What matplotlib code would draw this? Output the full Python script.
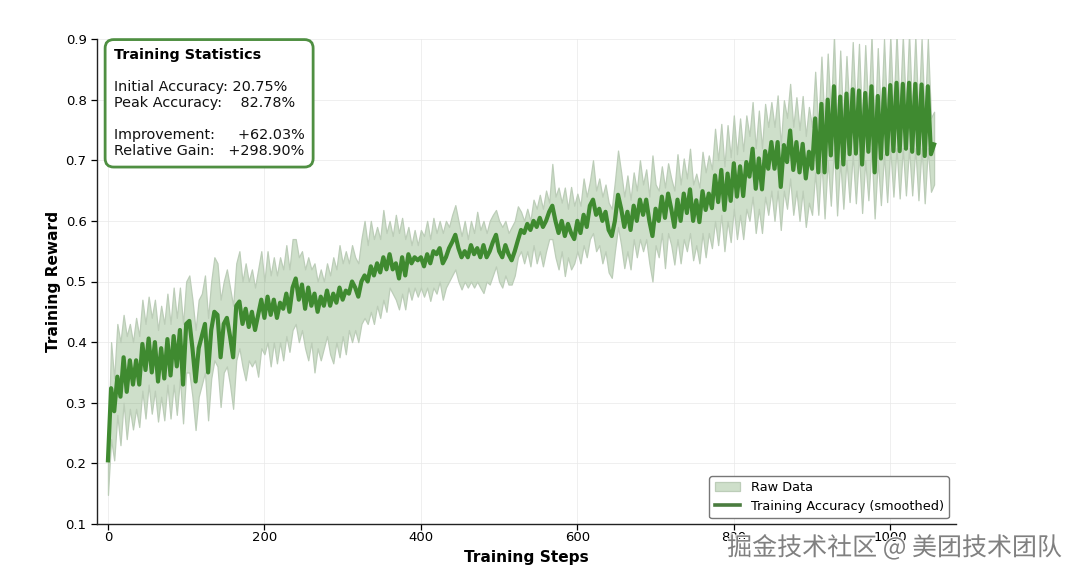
import numpy as np
import matplotlib
matplotlib.use("Agg")
import matplotlib.pyplot as plt
import matplotlib.patheffects as pe

# one sample every 4 training steps
steps = list(range(0, 1060, 4))

smoothed = [
    .205, .324, .286, .343, .31, .375, .318, .37, .33, .37,
    .33, .397, .354, .406, .35, .40, .335, .39, .34, .405,
    .345, .41, .36, .42, .33, .43, .435, .39, .335, .39,
    .41, .43, .35, .42, .45, .445, .375, .43, .44, .41,
    .375, .46, .467, .43, .455, .425, .45, .42, .445, .47,
    .44, .475, .445, .47, .44, .465, .455, .48, .45, .49,
    .505, .47, .495, .455, .49, .46, .48, .45, .475, .46,
    .485, .46, .48, .465, .49, .47, .485, .48, .50, .49,
    .475, .50, .51, .50, .525, .51, .53, .515, .54, .52,
    .545, .52, .53, .505, .54, .51, .545, .53, .54, .535,
    .54, .525, .545, .53, .55, .545, .555, .53, .54, .555,
    .565, .577, .555, .54, .55, .54, .56, .545, .555, .54,
    .56, .54, .55, .565, .577, .55, .54, .56, .545, .535,
    .55, .568, .585, .58, .595, .585, .60, .59, .605, .59,
    .60, .615, .625, .60, .58, .60, .575, .595, .58, .57,
    .60, .58, .61, .59, .625, .635, .61, .62, .60, .615,
    .585, .575, .60, .643, .62, .59, .615, .585, .625, .60,
    .635, .61, .635, .60, .575, .62, .60, .64, .605, .645,
    .62, .59, .635, .60, .645, .613, .652, .60, .634, .598,
    .649, .618, .645, .621, .675, .631, .684, .618, .678, .633,
    .695, .64, .69, .641, .697, .673, .719, .653, .703, .652,
    .715, .686, .73, .686, .73, .656, .725, .697, .749, .684,
    .73, .68, .727, .67, .714, .686, .769, .68, .793, .68,
    .80, .708, .822, .688, .805, .693, .81, .71, .817, .711,
    .815, .693, .811, .714, .822, .68, .806, .703, .818, .71,
    .824, .715, .8278, .715, .826, .719, .8278, .714, .826, .711,
    .825, .707, .822, .71, .726,
]

raw_upper = [
    .21, .40, .34, .43, .40, .445, .41, .43, .40, .44,
    .41, .47, .43, .475, .44, .47, .42, .46, .43, .48,
    .43, .49, .44, .49, .43, .50, .51, .47, .42, .47,
    .48, .51, .44, .50, .54, .53, .47, .50, .52, .49,
    .46, .53, .55, .50, .53, .50, .52, .49, .52, .55,
    .50, .55, .51, .54, .51, .54, .52, .56, .52, .57,
    .57, .54, .55, .52, .54, .52, .53, .50, .52, .50,
    .53, .51, .54, .52, .56, .53, .55, .53, .56, .54,
    .53, .57, .60, .56, .60, .57, .59, .57, .618, .58,
    .60, .575, .61, .58, .605, .57, .59, .56, .585, .56,
    .585, .575, .60, .57, .605, .58, .60, .58, .60, .59,
    .61, .626, .60, .575, .60, .57, .60, .58, .615, .585,
    .60, .58, .60, .61, .618, .60, .59, .60, .58, .59,
    .60, .624, .615, .60, .62, .60, .635, .62, .643, .62,
    .65, .63, .694, .64, .655, .63, .655, .62, .656, .625,
    .645, .625, .67, .64, .665, .70, .65, .67, .64, .66,
    .63, .62, .665, .716, .68, .64, .675, .635, .68, .65,
    .70, .66, .685, .64, .708, .66, .65, .69, .655, .695,
    .67, .65, .71, .66, .703, .67, .719, .66, .678, .655,
    .714, .68, .708, .685, .752, .70, .76, .69, .758, .705,
    .774, .71, .769, .715, .774, .74, .796, .72, .782, .72,
    .793, .755, .796, .755, .807, .725, .799, .77, .826, .755,
    .804, .75, .806, .74, .788, .755, .846, .755, .871, .755,
    .876, .775, .905, .755, .881, .76, .872, .775, .895, .78,
    .892, .76, .89, .78, .905, .75, .885, .77, .90, .775,
    .905, .78, .91, .78, .905, .785, .91, .78, .905, .775,
    .90, .77, .90, .77, .78,
]

raw_lower = [
    .148, .24, .205, .28, .23, .30, .24, .29, .256, .29,
    .26, .32, .274, .33, .282, .32, .269, .31, .271, .33,
    .274, .33, .28, .34, .266, .35, .35, .31, .255, .31,
    .33, .35, .271, .34, .37, .36, .293, .35, .36, .33,
    .29, .37, .39, .36, .337, .37, .36, .37, .343, .39,
    .38, .40, .36, .40, .365, .40, .37, .41, .384, .42,
    .43, .40, .42, .39, .37, .40, .35, .39, .37, .39,
    .41, .38, .365, .40, .375, .41, .38, .42, .40, .42,
    .40, .43, .44, .43, .45, .43, .46, .44, .47, .45,
    .49, .48, .47, .454, .48, .454, .49, .47, .49, .475,
    .49, .475, .49, .468, .49, .48, .50, .47, .49, .50,
    .51, .52, .50, .487, .50, .49, .50, .49, .50, .49,
    .481, .50, .495, .51, .525, .50, .49, .51, .495, .495,
    .51, .54, .55, .53, .55, .525, .56, .53, .55, .525,
    .55, .57, .57, .54, .52, .55, .509, .54, .52, .53,
    .55, .53, .56, .54, .57, .58, .55, .56, .53, .55,
    .515, .506, .55, .59, .56, .522, .55, .52, .57, .54,
    .57, .55, .57, .53, .50, .56, .54, .58, .522, .58,
    .56, .528, .57, .53, .57, .55, .58, .535, .56, .53,
    .58, .54, .58, .555, .60, .56, .61, .55, .60, .565,
    .62, .57, .61, .57, .62, .60, .64, .58, .62, .58,
    .64, .61, .65, .60, .65, .585, .65, .62, .67, .61,
    .65, .60, .65, .59, .63, .61, .68, .61, .70, .604,
    .70, .625, .72, .609, .70, .62, .70, .631, .71, .629,
    .71, .613, .70, .634, .72, .604, .70, .626, .71, .631,
    .72, .64, .72, .637, .72, .642, .72, .642, .72, .634,
    .72, .629, .72, .648, .66,
]

x_ticks = [0, 200, 400, 600, 800, 1000]
y_ticks = [.1, .2, .3, .4, .5, .6, .7, .8, .9]

stats_lines = [
    "Initial Accuracy: 20.75%",
    "Peak Accuracy:    82.78%",
    "",
    "Improvement:     +62.03%",
    "Relative Gain:   +298.90%",
]

W, H = 1080, 580
fig = plt.figure(figsize=(W / 100, H / 100), dpi=100)
ax = fig.add_axes([97 / W, 1 - 524 / H, (956 - 97) / W, (524 - 39) / H])

ax.fill_between(steps, raw_lower, raw_upper, facecolor=(0.29, 0.54, 0.24, 0.27), edgecolor="#bccdb8",
                lw=0.9, label="Raw Data")
ax.plot(steps, smoothed, color="#3f8a30", lw=3.0, label="Training Accuracy (smoothed)")

ax.set_xlim(-14, 1084)
ax.set_ylim(.1, .9)
ax.set_xticks(x_ticks)
ax.set_yticks(y_ticks)
ax.tick_params(labelsize=9.5, length=4, width=0.9)
ax.tick_params(axis="x", pad=1)
ax.grid(True, color="#e8e8e8", lw=0.7, alpha=0.7)
ax.set_axisbelow(True)
ax.spines["top"].set_visible(False)
ax.spines["right"].set_visible(False)
for s in ["left", "bottom"]:
    ax.spines[s].set_color("#222222")
    ax.spines[s].set_linewidth(1.0)

ax.set_xlabel("Training Steps", fontsize=11.1, fontweight="bold", labelpad=4.5)
ax.set_ylabel("Training Reward", fontsize=11.1, fontweight="bold", labelpad=3)

# statistics box
ax.text(0.0195, 0.981, "\n\n" + "\n".join(stats_lines), transform=ax.transAxes, fontsize=10.35,
        va="top", ha="left", linespacing=1.185, color="#111111", zorder=5,
        bbox=dict(boxstyle="round,pad=0.6", fc="white", ec="#4f8f42", lw=2))
ax.text(0.0195, 0.981, "Training Statistics", transform=ax.transAxes, fontsize=10.35,
        fontweight="bold", va="top", ha="left", color="black", zorder=6)

handles, labels = ax.get_legend_handles_labels()
handles[1] = plt.Line2D([], [], color="#4a7c3f", lw=2.6)
ax.legend(handles, labels, loc="lower right", fontsize=9.3, frameon=True, framealpha=1,
          edgecolor="#777777", fancybox=True, bbox_to_anchor=(0.9919, 0.012),
          borderaxespad=0, labelspacing=0.45)

fig.text(1062 / W, 1 - 548 / H, "掘金技术社区 @ 美团技术团队", fontsize=18, ha="right", va="center",
         family=["Noto Sans CJK SC", "DejaVu Sans"], color="#808080", zorder=10,
         path_effects=[pe.withStroke(linewidth=1.5, foreground="white")])

fig.savefig("out.png", dpi=100)
